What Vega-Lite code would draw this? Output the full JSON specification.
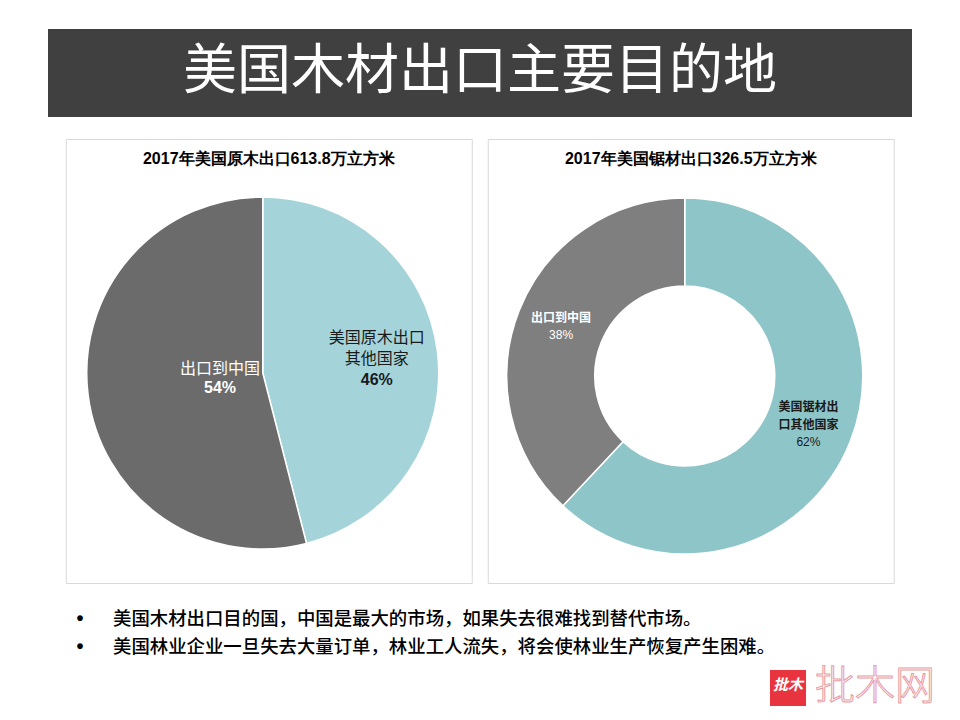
{
  "$schema": "https://vega.github.io/schema/vega-lite/v6.json",
  "padding": {"left": 25, "top": 29, "right": 0, "bottom": 0},
  "background": "white",
  "config": {"font": "Noto Sans CJK SC", "view": {"stroke": null}},
  "datasets": {
    "banner": [{"t": "美国木材出口主要目的地"}],
    "logs": [
      {"name": "美国原木出口其他国家", "value": 46, "ord": 1, "l1": "美国原木出口", "l2": "其他国家", "pct": "46%"},
      {"name": "出口到中国", "value": 54, "ord": 2, "l1": "出口到中国", "l2": "", "pct": "54%"}
    ],
    "lumber": [
      {"name": "美国锯材出口其他国家", "value": 62, "ord": 1, "l1": "美国锯材出", "l2": "口其他国家", "pct": "62%"},
      {"name": "出口到中国", "value": 38, "ord": 2, "l1": "出口到中国", "l2": "", "pct": "38%"}
    ],
    "notes": [
      {"row": "1", "bullet": "•", "text": "美国木材出口目的国，中国是最大的市场，如果失去很难找到替代市场。"},
      {"row": "2", "bullet": "•", "text": "美国林业企业一旦失去大量订单，林业工人流失，将会使林业生产恢复产生困难。"}
    ],
    "logo": [{"row": "3", "a": "批木", "b": "批木网"}]
  },
  "vconcat": [
    {
      "width": 864,
      "height": 88,
      "view": {"fill": "#404040", "stroke": null},
      "data": {"name": "banner"},
      "mark": {"type": "text", "fontSize": 54, "color": "white", "font": "Noto Sans CJK SC", "fontWeight": 400, "baseline": "middle", "dy": 0},
      "encoding": {"text": {"field": "t"}}
    },
    {
      "hconcat": [
        {
          "width": 406,
          "height": 444,
          "view": {"stroke": "#d9d9d9", "fill": "white"},
          "title": {"text": "2017年美国原木出口613.8万立方米", "fontSize": 16, "fontWeight": "bold", "color": "#000000", "offset": -28, "anchor": "middle", "font": "Liberation Sans"},
          "data": {"name": "logs"},
          "encoding": {
            "theta": {"field": "value", "type": "quantitative", "stack": true},
            "order": {"field": "ord", "type": "quantitative"}
          },
          "layer": [
            {
              "mark": {"type": "arc", "outerRadius": 176, "stroke": "white", "strokeWidth": 1.5, "xOffset": -6, "yOffset": 12},
              "encoding": {
                "color": {"field": "name", "type": "nominal", "legend": null,
                  "scale": {"domain": ["美国原木出口其他国家", "出口到中国"], "range": ["#a4d4da", "#6b6b6b"]}}
              }
            },
            {
              "mark": {"type": "text", "radius": 43, "xOffset": -6, "yOffset": 12, "dy": -9, "fontSize": 16, "color": "white", "baseline": "middle"},
              "encoding": {"text": {"condition": {"test": "datum.ord == 2", "field": "l1"}, "value": ""}}
            },
            {
              "mark": {"type": "text", "radius": 43, "xOffset": -6, "yOffset": 12, "dy": 10, "fontSize": 16, "fontWeight": "bold", "color": "white", "baseline": "middle", "font": "Liberation Sans"},
              "encoding": {"text": {"condition": {"test": "datum.ord == 2", "field": "pct"}, "value": ""}}
            },
            {
              "mark": {"type": "text", "radius": 115, "xOffset": -6, "yOffset": 12, "dy": -21, "fontSize": 16, "color": "#1a1a1a", "baseline": "middle"},
              "encoding": {"text": {"condition": {"test": "datum.ord == 1", "field": "l1"}, "value": ""}}
            },
            {
              "mark": {"type": "text", "radius": 115, "xOffset": -6, "yOffset": 12, "dy": 0, "fontSize": 16, "color": "#1a1a1a", "baseline": "middle"},
              "encoding": {"text": {"condition": {"test": "datum.ord == 1", "field": "l2"}, "value": ""}}
            },
            {
              "mark": {"type": "text", "radius": 115, "xOffset": -6, "yOffset": 12, "dy": 21, "fontSize": 16, "fontWeight": "bold", "color": "#1a1a1a", "baseline": "middle", "font": "Liberation Sans"},
              "encoding": {"text": {"condition": {"test": "datum.ord == 1", "field": "pct"}, "value": ""}}
            }
          ]
        },
        {
          "width": 406,
          "height": 444,
          "view": {"stroke": "#d9d9d9", "fill": "white"},
          "title": {"text": "2017年美国锯材出口326.5万立方米", "fontSize": 16, "fontWeight": "bold", "color": "#000000", "offset": -28, "anchor": "middle", "font": "Liberation Sans"},
          "data": {"name": "lumber"},
          "encoding": {
            "theta": {"field": "value", "type": "quantitative", "stack": true},
            "order": {"field": "ord", "type": "quantitative"}
          },
          "layer": [
            {
              "mark": {"type": "arc", "outerRadius": 178, "innerRadius": 90, "stroke": "white", "strokeWidth": 1.5, "xOffset": -6, "yOffset": 15},
              "encoding": {
                "color": {"field": "name", "type": "nominal", "legend": null,
                  "scale": {"domain": ["美国锯材出口其他国家", "出口到中国"], "range": ["#8ec5c8", "#7f7f7f"]}}
              }
            },
            {
              "mark": {"type": "text", "radius": 133, "xOffset": -6, "yOffset": 15, "dy": -9, "fontSize": 12, "fontWeight": "bold", "color": "white", "baseline": "middle"},
              "encoding": {"text": {"condition": {"test": "datum.ord == 2", "field": "l1"}, "value": ""}}
            },
            {
              "mark": {"type": "text", "radius": 133, "xOffset": -6, "yOffset": 15, "dy": 8, "fontSize": 12, "color": "white", "baseline": "middle", "font": "Liberation Sans"},
              "encoding": {"text": {"condition": {"test": "datum.ord == 2", "field": "pct"}, "value": ""}}
            },
            {
              "mark": {"type": "text", "radius": 133, "xOffset": -6, "yOffset": 15, "dy": -18, "fontSize": 12, "fontWeight": "bold", "color": "#1a1a1a", "baseline": "middle"},
              "encoding": {"text": {"condition": {"test": "datum.ord == 1", "field": "l1"}, "value": ""}}
            },
            {
              "mark": {"type": "text", "radius": 133, "xOffset": -6, "yOffset": 15, "dy": 0, "fontSize": 12, "fontWeight": "bold", "color": "#1a1a1a", "baseline": "middle"},
              "encoding": {"text": {"condition": {"test": "datum.ord == 1", "field": "l2"}, "value": ""}}
            },
            {
              "mark": {"type": "text", "radius": 133, "xOffset": -6, "yOffset": 15, "dy": 17, "fontSize": 12, "color": "#1a1a1a", "baseline": "middle", "font": "Liberation Sans"},
              "encoding": {"text": {"condition": {"test": "datum.ord == 1", "field": "pct"}, "value": ""}}
            }
          ]
        }
      ],
      "spacing": 14,
      "resolve": {"scale": {"color": "independent", "theta": "independent"}}
    },
    {
      "width": 910,
      "height": 84,
      "view": {"stroke": null},
      "encoding": {
        "y": {"field": "row", "type": "ordinal", "axis": null, "scale": {"domain": ["1", "2", "3"], "paddingInner": 0, "paddingOuter": 0}}
      },
      "layer": [
        {
          "data": {"name": "notes"},
          "mark": {"type": "text", "align": "center", "baseline": "middle", "fontSize": 20, "fontWeight": "bold", "color": "#000000", "dx": 55, "font": "Liberation Sans"},
          "encoding": {
            "x": {"datum": 0, "type": "quantitative", "scale": {"domain": [0, 1]}, "axis": null},
            "text": {"field": "bullet"}
          }
        },
        {
          "data": {"name": "notes"},
          "mark": {"type": "text", "align": "left", "baseline": "middle", "fontSize": 18.4, "fontWeight": 500, "color": "#000000", "dx": 88},
          "encoding": {
            "x": {"datum": 0, "type": "quantitative", "scale": {"domain": [0, 1]}, "axis": null},
            "text": {"field": "text"}
          }
        },
        {
          "data": {"name": "logo"},
          "mark": {"type": "point", "shape": "square", "size": 1300, "filled": true, "color": "#e8343e", "opacity": 1, "xOffset": -147, "yOffset": 13},
          "encoding": {
            "x": {"datum": 1, "type": "quantitative", "scale": {"domain": [0, 1]}, "axis": null}
          }
        },
        {
          "data": {"name": "logo"},
          "mark": {"type": "text", "align": "center", "baseline": "middle", "fontSize": 15, "fontWeight": "bold", "fontStyle": "italic", "color": "white", "dx": -147, "dy": 10},
          "encoding": {
            "x": {"datum": 1, "type": "quantitative", "scale": {"domain": [0, 1]}, "axis": null},
            "text": {"field": "a"}
          }
        },
        {
          "data": {"name": "logo"},
          "mark": {"type": "text", "align": "right", "baseline": "middle", "fontSize": 40, "fontWeight": 300, "fill": null, "stroke": "#e89aa4", "strokeWidth": 1, "dx": 0, "dy": 12},
          "encoding": {
            "x": {"datum": 1, "type": "quantitative", "scale": {"domain": [0, 1]}, "axis": null},
            "text": {"field": "b"}
          }
        }
      ]
    }
  ],
  "spacing": 21,
  "center": true
}
